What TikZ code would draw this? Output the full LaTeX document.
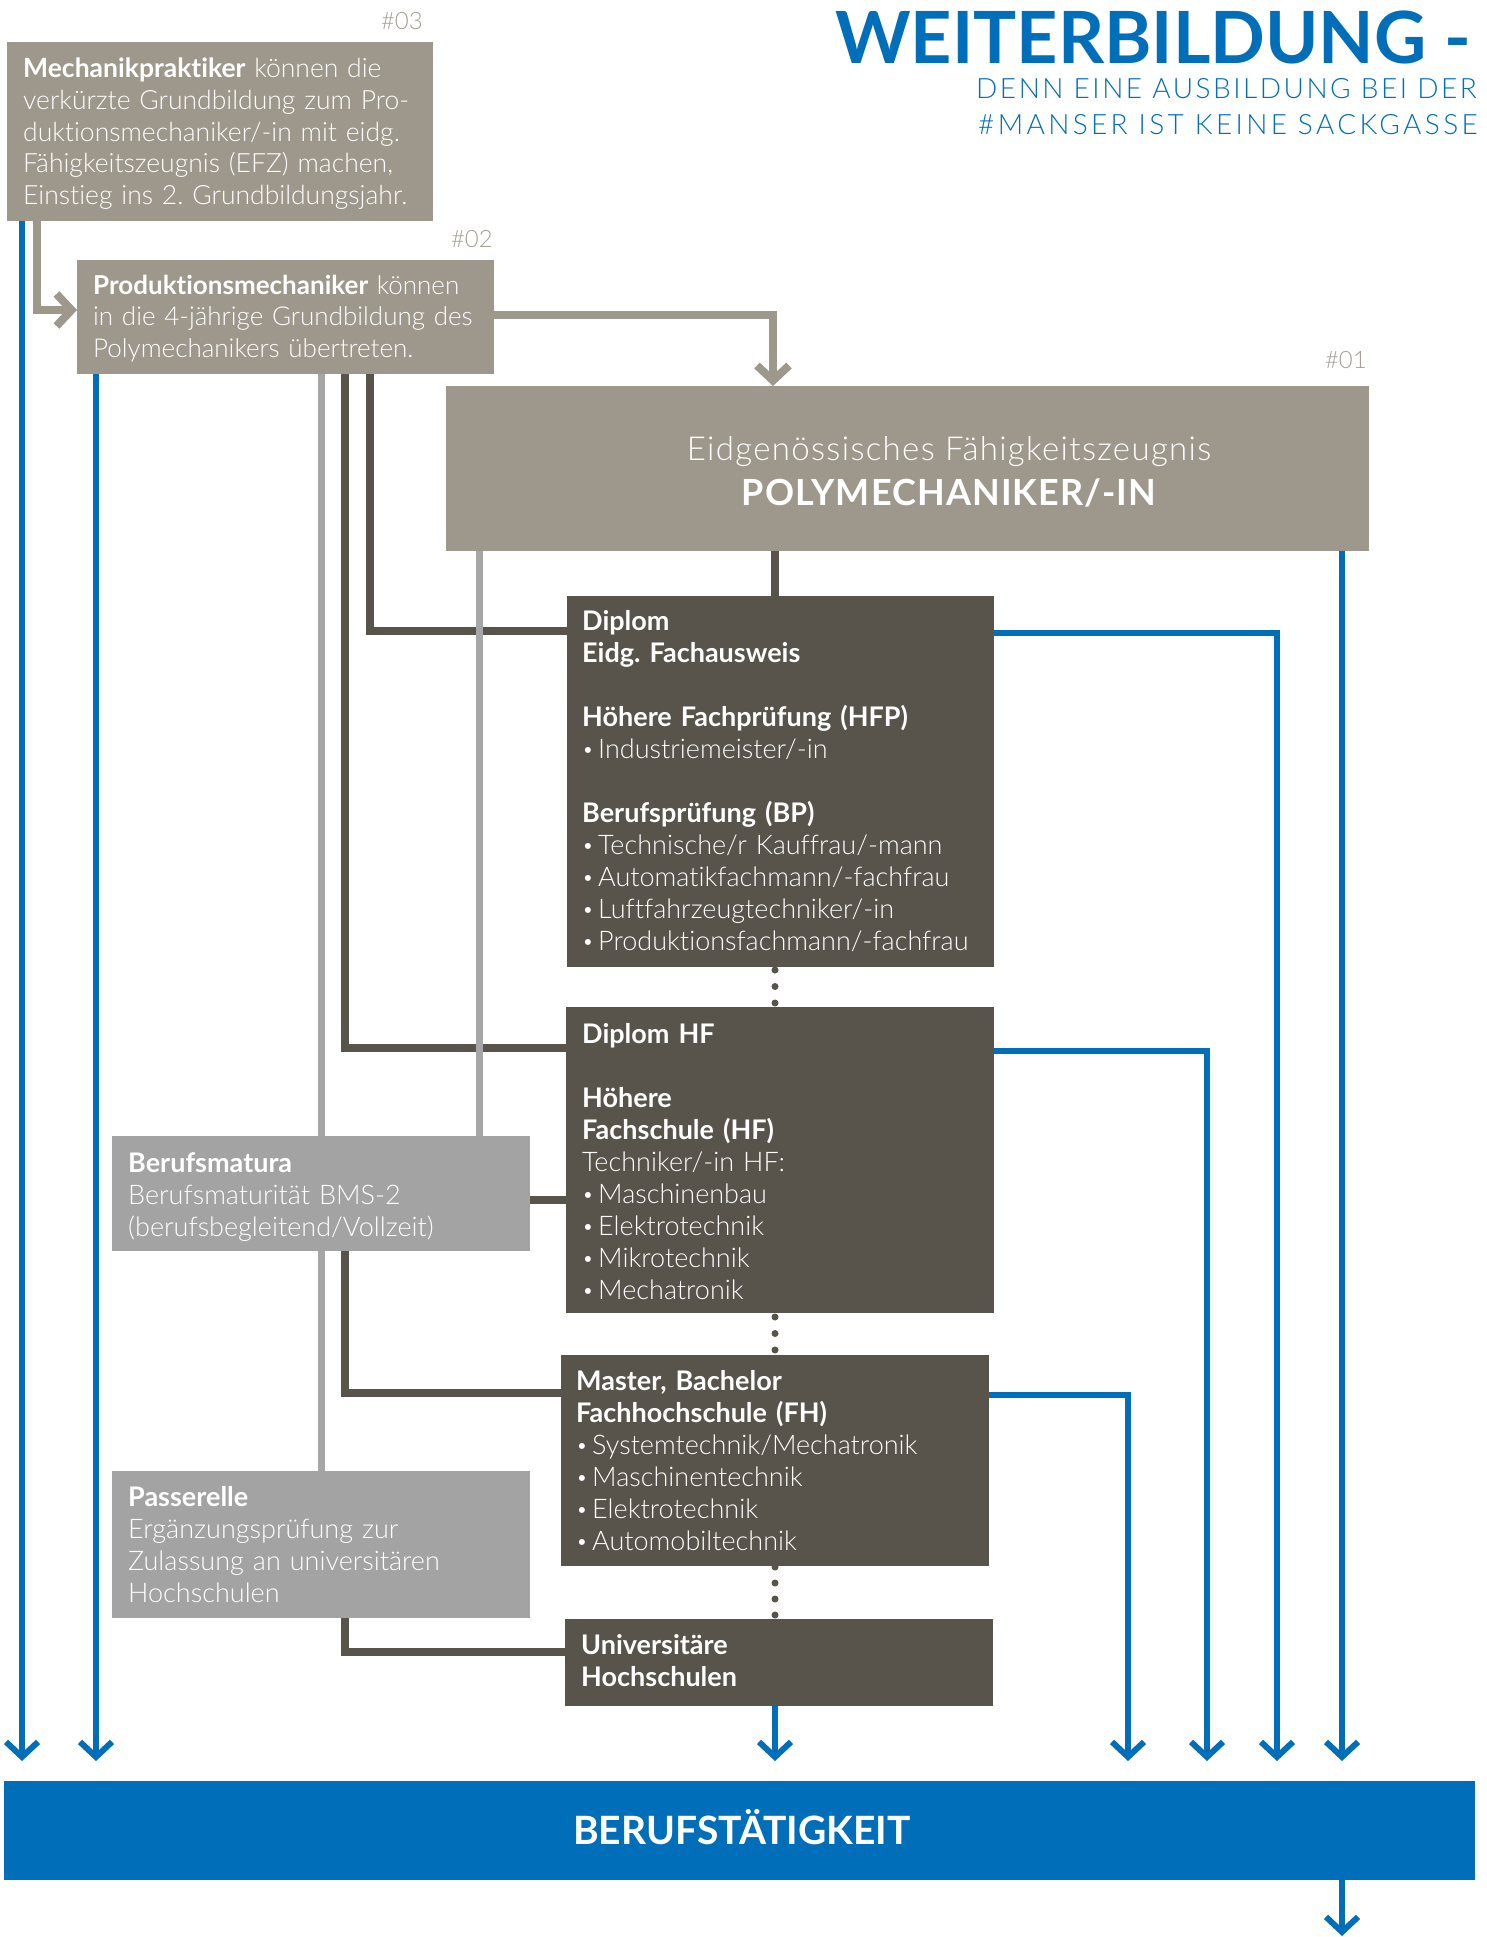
\documentclass[tikz,border=0pt]{standalone}
\usepackage{fontspec}
\IfFontExistsTF{Lato Light}{%
  \IfFontExistsTF{Lato Bold}{%
    \setmainfont{Lato}[UprightFont={Lato Light}, BoldFont={Lato Bold}, Ligatures=NoCommon]}{%
    \setmainfont{Lato}[Ligatures=NoCommon]}}{%
  \setmainfont{Lato}[Ligatures=NoCommon]}
\usetikzlibrary{arrows.meta,backgrounds,calc}
\definecolor{warm}{RGB}{158,152,140}
\definecolor{darkb}{RGB}{88,84,76}
\definecolor{lightb}{RGB}{163,163,163}
\definecolor{lline}{RGB}{166,166,166}
\definecolor{mblue}{RGB}{0,110,185}
\definecolor{hashc}{RGB}{165,160,150}
\newcommand\bul{\makebox[16pt][l]{\raisebox{0.05em}{\scalebox{0.75}{•}}}}
\tikzset{
  boxbase/.style={rectangle, inner sep=0pt, outer sep=0pt, anchor=north west},
  warmbox/.style={boxbase, fill=warm},
  darkbox/.style={boxbase, fill=darkb},
  lightbox/.style={boxbase, fill=lightb},
  bodytxt/.style={anchor=base west, inner sep=0pt, text=white, align=left, text width=440pt, font=\fontsize{26.5}{31.6}\selectfont},
  darktxt/.style={bodytxt, font=\fontsize{27}{32}\selectfont},
  hashtxt/.style={anchor=base east, inner sep=0pt, text=hashc, font=\fontsize{24}{24}\selectfont},
  chev/.tip={Straight Barb[sharp, length=15pt, width=32pt]},
  darkline/.style={draw=darkb, line width=8pt},
  lightline/.style={draw=lline, line width=7pt},
  blueline/.style={draw=mblue, line width=6pt, -chev},
  warmarrow/.style={draw=warm, line width=8pt, -chev},
  dotline/.style={draw=darkb, line width=7pt, line cap=round},
}
\begin{document}
\begin{tikzpicture}[x=1pt,y=-1pt]
\useasboundingbox (0,0) rectangle (1486,1937);
% boxes
\node[warmbox, minimum width=426pt, minimum height=179pt] (b3) at (7,42) {};
\node[warmbox, minimum width=417pt, minimum height=114pt] (b2) at (77,260) {};
\node[warmbox, minimum width=923pt, minimum height=165pt] (b1) at (446,386) {};
\node[darkbox, minimum width=427pt, minimum height=371pt] (dip) at (567,596) {};
\node[darkbox, minimum width=428pt, minimum height=306pt] (hf) at (566,1007) {};
\node[lightbox, minimum width=418pt, minimum height=115pt] (bm) at (112,1136) {};
\node[darkbox, minimum width=428pt, minimum height=211pt] (fh) at (561,1355) {};
\node[lightbox, minimum width=418pt, minimum height=147pt] (pass) at (112,1471) {};
\node[darkbox, minimum width=428pt, minimum height=87pt] (uni) at (565,1619) {};
\node[boxbase, fill=mblue, minimum width=1471pt, minimum height=99pt] (bar) at (4,1781) {};
% title
\node[anchor=base east, inner sep=0pt, text=mblue, font=\bfseries\fontsize{72}{72}\selectfont] (title) at (1471,64) {WEITERBILDUNG -};
\node[anchor=base east, inner sep=0pt, text=mblue, font=\fontsize{28}{28}\selectfont\addfontfeature{LetterSpace=9}] (sub1) at (1477,99) {DENN EINE AUSBILDUNG BEI DER};
\node[anchor=base east, inner sep=0pt, text=mblue, font=\fontsize{28}{28}\selectfont\addfontfeature{LetterSpace=12}] (sub2) at (1478,135) {\#MANSER IST KEINE SACKGASSE};
% hash labels
\node[hashtxt] (h3) at (423,30) {\#03};
\node[hashtxt] (h2) at (493,247) {\#02};
\node[hashtxt] (h1) at (1367,368) {\#01};
% texts
\node[bodytxt] (t3) at (23,78) {\textbf{Mechanikpraktiker} können die\\verkürzte Grundbildung zum Pro-\\duktionsmechaniker/-in mit eidg.\\Fähigkeitszeugnis (EFZ) machen,\\Einstieg ins 2.\ Grundbildungsjahr.};
\node[bodytxt, font=\fontsize{26}{31.6}\selectfont] (t2) at (93,294) {\textbf{Produktionsmechaniker} können\\in die 4-jährige Grundbildung des\\Polymechanikers übertreten.};
\node[anchor=base, inner sep=0pt, text=white, font=\fontsize{33}{33}\selectfont\addfontfeature{LetterSpace=4}] (t1a) at (949,460) {Eidgenössisches Fähigkeitszeugnis};
\node[anchor=base, inner sep=0pt, text=white, font=\bfseries\fontsize{36}{36}\selectfont\addfontfeature{LetterSpace=3}] (t1b) at (949,505) {POLYMECHANIKER/-IN};
\node[darktxt] (tdip) at (582,630) {\textbf{Diplom}\\\textbf{Eidg.\ Fachausweis}\\[32pt]\textbf{Höhere Fachprüfung (HFP)}\\\bul Industriemeister/-in\\[32pt]\textbf{Berufsprüfung (BP)}\\\bul Technische/r Kauffrau/-mann\\\bul Automatikfachmann/-fachfrau\\\bul Luftfahrzeugtechniker/-in\\\bul Produktionsfachmann/-fachfrau};
\node[darktxt] (thf) at (582,1043) {\textbf{Diplom HF}\\[32pt]\textbf{Höhere}\\\textbf{Fachschule (HF)}\\Techniker/-in HF:\\\bul Maschinenbau\\\bul Elektrotechnik\\\bul Mikrotechnik\\\bul Mechatronik};
\node[darktxt] (tbm) at (128,1172) {\textbf{Berufsmatura}\\Berufsmaturität BMS-2\\(berufsbegleitend/Vollzeit)};
\node[darktxt] (tfh) at (576,1390) {\textbf{Master, Bachelor}\\\textbf{Fachhochschule (FH)}\\\bul Systemtechnik/Mechatronik\\\bul Maschinentechnik\\\bul Elektrotechnik\\\bul Automobiltechnik};
\node[darktxt] (tpass) at (128,1506) {\textbf{Passerelle}\\Ergänzungsprüfung zur\\Zulassung an universitären\\Hochschulen};
\node[darktxt] (tuni) at (581,1654) {\textbf{Universitäre}\\\textbf{Hochschulen}};
\node[anchor=base, inner sep=0pt, text=white, font=\bfseries\fontsize{39}{39}\selectfont] (tbar) at (742,1844) {BERUFSTÄTIGKEIT};
% coordinates
\coordinate (e1) at (22,1761);
\coordinate (e2) at (96,1761);
\coordinate (e3) at (775,1761);
\coordinate (e4) at (1128,1761);
\coordinate (e5) at (1207,1761);
\coordinate (e6) at (1277,1761);
\coordinate (e7) at (1342,1761);
\coordinate (e8) at (1342,1936);
\coordinate (dtop) at ([xshift=208pt]dip.north west);
\coordinate (bmr) at ([yshift=-64pt]bm.north east);
\coordinate (lg1) at ([xshift=244pt]b2.south west);
\coordinate (lg2) at ([xshift=33pt]b1.south west);
\begin{scope}[on background layer]
\fill[white] (0,0) rectangle (1486,1937);
% dark connectors
\draw[darkline] ([xshift=293pt]b2.south west) |- ([yshift=-35pt]dip.north west);
\draw[darkline] ([xshift=268pt]b2.south west) |- ([yshift=-41pt]hf.north west);
\draw[darkline] ([xshift=233pt]bm.south west) |- ([yshift=-38pt]fh.north west);
\draw[darkline] ([xshift=233pt]pass.south west) |- ([yshift=-33pt]uni.north west);
\draw[darkline] (bmr) -- (bmr -| hf.west);
\draw[darkline] (dtop) -- (dtop |- b1.south);
% dots
\draw[dotline, dash pattern=on 0pt off 16.5pt, dash phase=13.5pt] (dtop |- dip.south) -- (dtop |- hf.north);
\draw[dotline, dash pattern=on 0pt off 16.5pt, dash phase=12.5pt] (dtop |- hf.south) -- (dtop |- fh.north);
\draw[dotline, dash pattern=on 0pt off 16pt, dash phase=15pt] (dtop |- fh.south) -- (dtop |- uni.north);
% light gray
\draw[lightline] (lg1) -- (lg1 |- pass.north);
\draw[lightline] (lg2) -- (lg2 |- bm.north);
% warm arrows
\draw[warmarrow] ([xshift=30pt]b3.south west) |- ([yshift=-50pt]b2.north west);
\draw[warmarrow] ([yshift=-55pt]b2.north east) -| ([xshift=327pt]b1.north west);
% blue
\draw[blueline] (b3.south -| e1) -- (e1);
\draw[blueline] (b2.south -| e2) -- (e2);
\draw[blueline] (b1.south -| e7) -- (e7);
\draw[blueline] (uni.south -| e3) -- (e3);
\draw[blueline] ([yshift=-37pt]dip.north east) -| (e6);
\draw[blueline] ([yshift=-44pt]hf.north east) -| (e5);
\draw[blueline] ([yshift=-40pt]fh.north east) -| (e4);
\draw[blueline] (bar.south -| e8) -- (e8);
\end{scope}
\end{tikzpicture}
\end{document}
